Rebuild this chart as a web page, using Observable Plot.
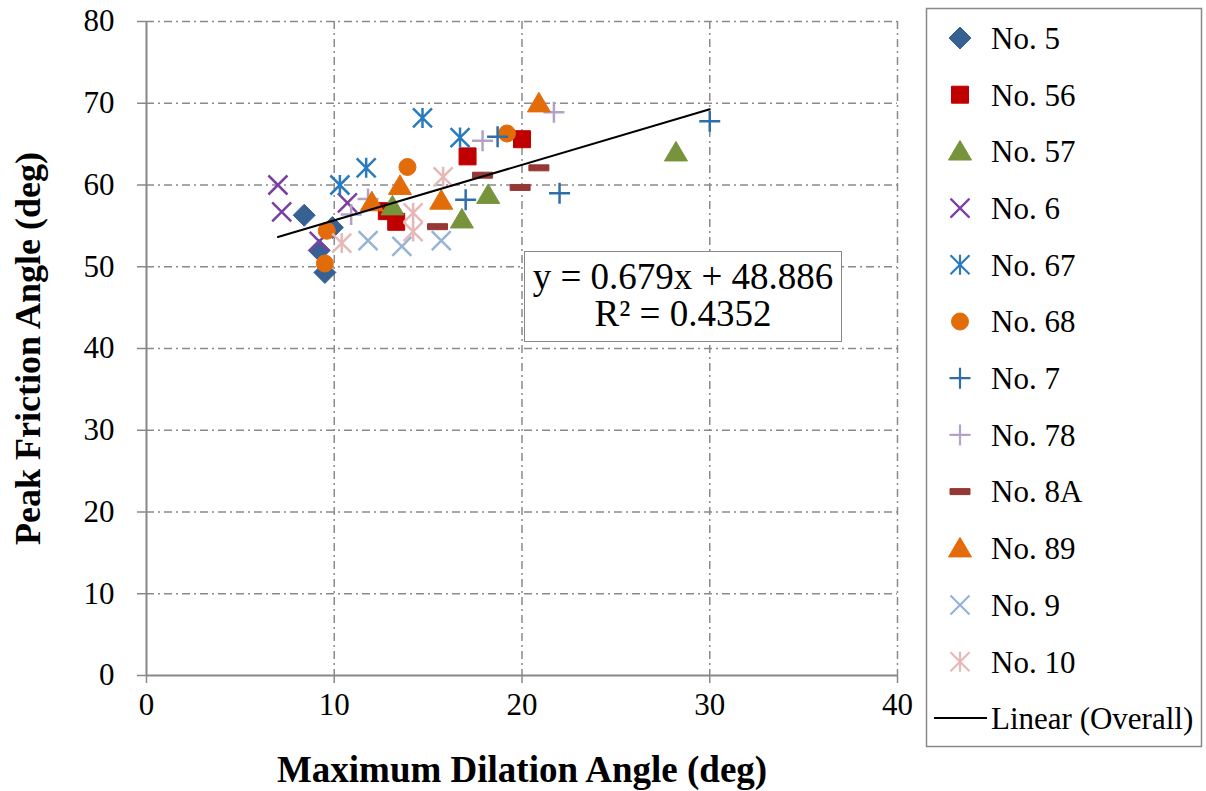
<!DOCTYPE html>
<html><head><meta charset="utf-8">
<script src="https://cdn.jsdelivr.net/npm/d3@7"></script>
<script src="https://cdn.jsdelivr.net/npm/@observablehq/plot@0.6"></script>
<style>
body{margin:0;background:#fff;}
#wrap{position:relative;width:1206px;height:791px;font-family:"Liberation Serif","Times New Roman",serif;color:#000;}
#eq{position:absolute;left:524px;top:251px;width:318px;height:91px;box-sizing:border-box;border:1.5px solid #888;background:#fff;text-align:center;font-size:37px;line-height:37px;padding-top:6px;white-space:nowrap;}
</style></head>
<body><div id="wrap"></div>
<script>
// ---- data ----
const seriesNames = ["No. 5","No. 56","No. 57","No. 6","No. 67","No. 68","No. 7","No. 78","No. 8A","No. 89","No. 9","No. 10"];
const seriesColors = ["#386193","#C00000","#77933C","#7A3FA3","#2A7BBE","#E36C0A","#2F6EA8","#B3A2C7","#953735","#E36C0A","#95B3D7","#E6B9B8"];
const seriesShapes = ["diamond","square","triangle","times","asterisk","circle","plus","plus","dash","triangle","times","asterisk"];

const no5X  = [8.4, 9.9, 9.2, 9.5];        const no5Y  = [56.3, 54.8, 52.0, 49.3];
const no56X = [12.8, 13.3, 17.1, 20.0];    const no56Y = [56.8, 55.5, 63.5, 65.6];
const no57X = [13.1, 16.8, 18.2, 28.2];    const no57Y = [57.4, 55.8, 58.8, 64.0];
const no6X  = [7.0, 7.2, 10.7, 9.2];       const no6Y  = [60.0, 56.7, 57.8, 53.1];
const no67X = [10.3, 11.7, 14.7, 16.7];    const no67Y = [60.0, 62.1, 68.2, 65.8];
const no68X = [9.6, 9.5, 13.9, 19.2];      const no68Y = [54.4, 50.4, 62.2, 66.3];
const no7X  = [17.0, 18.7, 22.0, 30.0];    const no7Y  = [58.2, 65.9, 59.0, 67.8];
const no78X = [10.9, 11.8, 17.9, 21.7];    const no78Y = [56.4, 58.3, 65.4, 68.9];
const no8AX = [15.5, 17.9, 19.9, 20.9];    const no8AY = [54.9, 61.2, 59.7, 62.1];
const no89X = [12.0, 13.5, 15.7, 20.9];    const no89Y = [57.9, 59.9, 58.1, 70.0];
const no9X  = [11.8, 13.6, 15.7];          const no9Y  = [53.2, 52.5, 53.2];
const no10X = [10.4, 14.2, 14.2, 15.8];    const no10Y = [52.9, 56.6, 54.3, 61.0];

const xTicks = [0, 10, 20, 30, 40];
const yTicks = [0, 10, 20, 30, 40, 50, 60, 70, 80];
const trendSlope = 0.679, trendIntercept = 48.886;
const equationLines = ["y = 0.679x + 48.886", "R² = 0.4352"];
const xTitle = "Maximum Dilation Angle (deg)";
const yTitle = "Peak Friction Angle (deg)";
const trendLabel = "Linear (Overall)";

// ---- build table ----
const seriesX = [no5X,no56X,no57X,no6X,no67X,no68X,no7X,no78X,no8AX,no89X,no9X,no10X];
const seriesY = [no5Y,no56Y,no57Y,no6Y,no67Y,no68Y,no7Y,no78Y,no8AY,no89Y,no9Y,no10Y];
const rows = [];
seriesNames.forEach((name, i) => seriesX[i].forEach((x, j) => rows.push({series: name, x, y: seriesY[i][j]})));
const xExt = d3.extent(rows, d => d.x);
const trend = xExt.map(x => ({x, y: trendSlope * x + trendIntercept}));

// ---- symbols ----
const R = s => Math.sqrt(s / Math.PI);
const sym = {
  diamond: {draw(c, s){const r=R(s); c.moveTo(0,-r); c.lineTo(r,0); c.lineTo(0,r); c.lineTo(-r,0); c.closePath();}},
  square: {draw(c, s){const r=R(s); c.moveTo(-r,-r); c.lineTo(r,-r); c.lineTo(r,r); c.lineTo(-r,r); c.closePath();}},
  triangle: {draw(c, s){const r=R(s); c.moveTo(0,-r*0.95); c.lineTo(r,r*0.75); c.lineTo(-r,r*0.75); c.closePath();}},
  circle: {draw(c, s){const r=R(s); c.moveTo(r,0); c.arc(0,0,r,0,2*Math.PI); c.closePath();}},
  times: {draw(c, s){const r=R(s); c.moveTo(-r,-r); c.lineTo(r,r); c.moveTo(r,-r); c.lineTo(-r,r);}},
  asterisk: {draw(c, s){const r=R(s); c.moveTo(-r,-r); c.lineTo(r,r); c.moveTo(r,-r); c.lineTo(-r,r); c.moveTo(0,-r*1.05); c.lineTo(0,r*1.05);}},
  plus: {draw(c, s){const r=R(s); c.moveTo(-r,0); c.lineTo(r,0); c.moveTo(0,-r); c.lineTo(0,r);}},
  dash: {draw(c, s){const r=R(s); c.moveTo(-r,-3); c.lineTo(r,-3); c.lineTo(r,3); c.lineTo(-r,3); c.closePath();}}
};
const shapeStyle = {
  diamond: {r: 11, filled: true}, square: {r: 8.5, filled: true}, triangle: {r: 11.5, filled: true},
  circle: {r: 8.5, filled: true}, dash: {r: 10, filled: true},
  times: {r: 9.5, filled: false}, asterisk: {r: 9.5, filled: false}, plus: {r: 10.5, filled: false}
};

const dotMarks = seriesNames.map((name, i) => {
  const shp = seriesShapes[i], st = shapeStyle[shp], col = seriesColors[i];
  return Plot.dot(rows.filter(d => d.series === name), {
    x: "x", y: "y", symbol: sym[shp], r: st.r,
    fill: st.filled ? col : "none", stroke: col, strokeWidth: st.filled ? 1 : 2.5
  });
});

const grid = {stroke: "#8a8a8a", strokeOpacity: 1, strokeWidth: 1.5, strokeDasharray: "8,4,2,4"};

const plot = Plot.plot({
  width: 1206, height: 791,
  marginLeft: 146, marginRight: 309, marginTop: 21, marginBottom: 116,
  x: {domain: [0, 40], label: null},
  y: {domain: [0, 80], label: null},
  style: {fontFamily: '"Liberation Serif","Times New Roman",serif', fontSize: "31px", background: "#fff", color: "#000", overflow: "visible"},
  marks: [
    Plot.gridX(xTicks.filter(t => t > 0), grid),
    Plot.gridY(yTicks.filter(t => t > 0), grid),
    Plot.axisX(xTicks, {tickSize: 8, tickPadding: 9, stroke: "#888", strokeWidth: 1.5, label: null}),
    Plot.axisY(yTicks, {tickSize: 9, tickPadding: 23, stroke: "#888", strokeWidth: 1.5, label: null}),
    Plot.ruleX([0], {stroke: "#888", strokeWidth: 2}),
    Plot.ruleY([0], {stroke: "#888", strokeWidth: 2}),
    ...dotMarks,
    Plot.line(trend, {x: "x", y: "y", stroke: "#000", strokeWidth: 2}),
    Plot.text([xTitle], {frameAnchor: "bottom", dy: 95, lineAnchor: "middle", fontWeight: "bold", fontSize: 37, text: d => d}),
    Plot.text([yTitle], {frameAnchor: "left", dx: -118, rotate: -90, textAnchor: "middle", lineAnchor: "middle", fontWeight: "bold", fontSize: 36, text: d => d})
  ]
});
const wrap = document.getElementById("wrap");
wrap.appendChild(plot);

// ---- equation label ----
const eq = document.createElement("div");
eq.id = "eq";
eq.innerHTML = equationLines.join("<br>");
wrap.appendChild(eq);

// ---- legend ----
const leg = d3.select(wrap).append("svg")
  .attr("width", 1206).attr("height", 791)
  .style("position", "absolute").style("left", "0px").style("top", "0px")
  .style("pointer-events", "none")
  .style("font-family", '"Liberation Serif","Times New Roman",serif').style("font-size", "31px");
leg.append("rect").attr("x", 926.5).attr("y", 8.5).attr("width", 275).attr("height", 738)
  .attr("fill", "#fff").attr("stroke", "#888").attr("stroke-width", 1.5);
const step = 56.7, y0 = 38;
seriesNames.forEach((name, i) => {
  const shp = seriesShapes[i], st = shapeStyle[shp], col = seriesColors[i];
  const cy = y0 + i * step;
  leg.append("path")
    .attr("d", d3.symbol(sym[shp], st.r * st.r * Math.PI)())
    .attr("transform", `translate(960,${cy})`)
    .attr("fill", st.filled ? col : "none").attr("stroke", col).attr("stroke-width", st.filled ? 1 : 2.2);
  leg.append("text").attr("x", 991).attr("y", cy).attr("dy", "0.35em").text(name);
});
const ly = y0 + seriesNames.length * step - 0.5;
leg.append("line").attr("x1", 934).attr("x2", 987).attr("y1", ly).attr("y2", ly).attr("stroke", "#000").attr("stroke-width", 2);
leg.append("text").attr("x", 991).attr("y", ly).attr("dy", "0.35em").text(trendLabel);
</script>
</body></html>
